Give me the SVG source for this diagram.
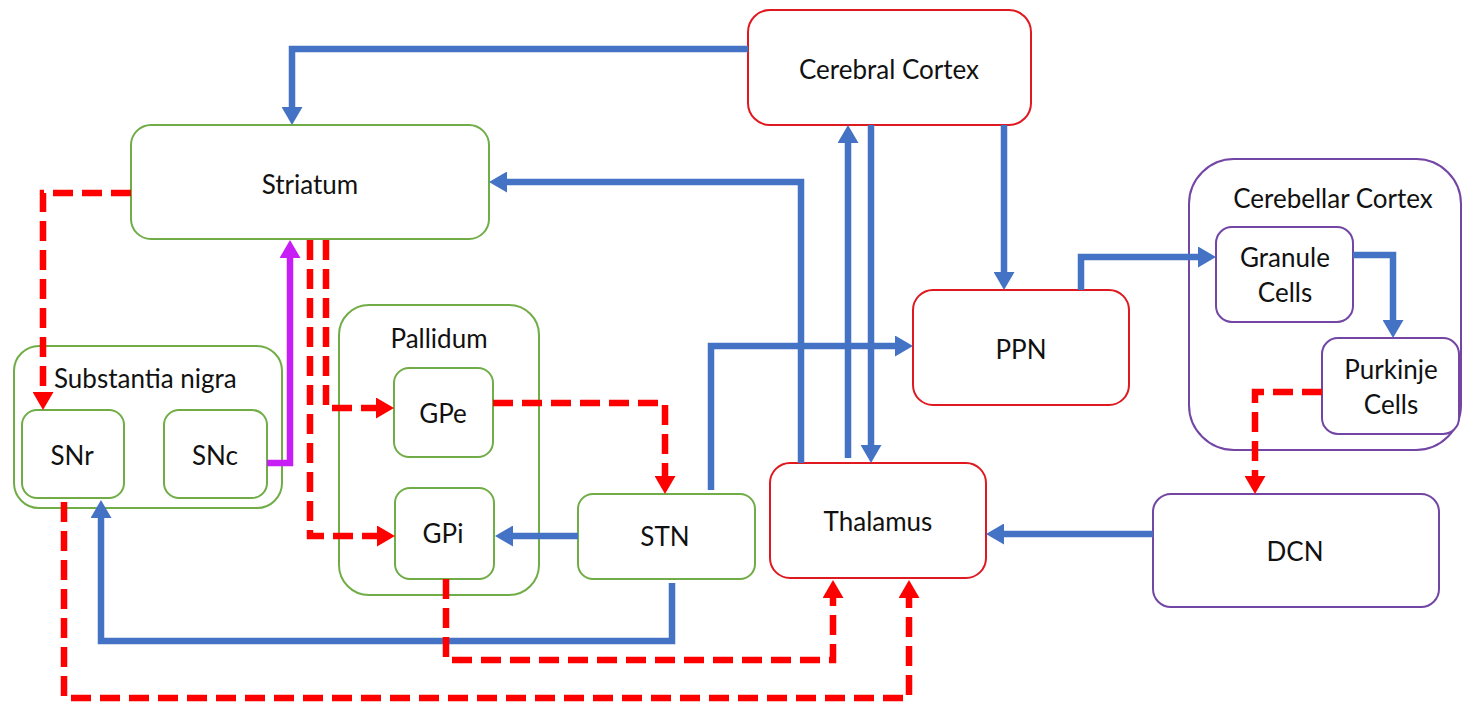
<svg xmlns="http://www.w3.org/2000/svg" width="1463" height="709" viewBox="0 0 1463 709">
  <style>
    .box { fill: #ffffff; stroke-width: 2; }
    .green { stroke: #70AD47; }
    .red { stroke: #E0181F; }
    .purple { stroke: #7345A5; }
    .lbl { font-family: Lato, "Liberation Sans", sans-serif; font-size: 26px; fill: #111111; text-anchor: middle; dominant-baseline: central; }
    .ex { fill: none; stroke: #4472C4; stroke-width: 6.5; }
    .inh { fill: none; stroke: #FF0000; stroke-width: 6.5; stroke-dasharray: 20 9; }
    .da { fill: none; stroke: #C61EF5; stroke-width: 6.5; }
  </style>
  <defs>
    <marker id="ahBlue" markerUnits="userSpaceOnUse" viewBox="0 0 18 21" refX="0" refY="10.5" markerWidth="18" markerHeight="21" orient="auto">
      <path d="M0,0 L18,10.5 L0,21 z" fill="#4472C4"/>
    </marker>
    <marker id="ahRed" markerUnits="userSpaceOnUse" viewBox="0 0 18 21" refX="0" refY="10.5" markerWidth="18" markerHeight="21" orient="auto">
      <path d="M0,0 L18,10.5 L0,21 z" fill="#FF0000"/>
    </marker>
    <marker id="ahMag" markerUnits="userSpaceOnUse" viewBox="0 0 18 21" refX="0" refY="10.5" markerWidth="18" markerHeight="21" orient="auto">
      <path d="M0,0 L18,10.5 L0,21 z" fill="#C61EF5"/>
    </marker>
  </defs>

  <!-- containers -->
  <g id="substantia-nigra">
    <rect class="box green" x="14" y="346" width="268" height="162" rx="25"/>
    <text class="lbl" x="54" y="378" style="text-anchor:start">Substantia nigra</text>
  </g>
  <g id="pallidum">
    <rect class="box green" x="339" y="305" width="200" height="290" rx="30"/>
    <text class="lbl" x="439" y="338">Pallidum</text>
  </g>
  <g id="cerebellar-cortex">
    <rect class="box purple" x="1189" y="159" width="272" height="291" rx="45"/>
    <text class="lbl" x="1333" y="198">Cerebellar Cortex</text>
  </g>

  <!-- nodes -->
  <g id="cerebral-cortex">
    <rect class="box red" x="748" y="10" width="283" height="115" rx="22"/>
    <text class="lbl" x="889" y="69">Cerebral Cortex</text>
  </g>
  <g id="striatum">
    <rect class="box green" x="131" y="125" width="358" height="114" rx="20"/>
    <text class="lbl" x="310" y="184">Striatum</text>
  </g>
  <g id="snr">
    <rect class="box green" x="22" y="410" width="102" height="88" rx="15"/>
    <text class="lbl" x="72" y="455">SNr</text>
  </g>
  <g id="snc">
    <rect class="box green" x="164" y="410" width="103" height="88" rx="15"/>
    <text class="lbl" x="215" y="455">SNc</text>
  </g>
  <g id="gpe">
    <rect class="box green" x="394" y="368" width="99" height="89" rx="15"/>
    <text class="lbl" x="443" y="413">GPe</text>
  </g>
  <g id="gpi">
    <rect class="box green" x="395" y="488" width="99" height="91" rx="15"/>
    <text class="lbl" x="443" y="533">GPi</text>
  </g>
  <g id="stn">
    <rect class="box green" x="578" y="494" width="177" height="85" rx="15"/>
    <text class="lbl" x="665" y="536">STN</text>
  </g>
  <g id="thalamus">
    <rect class="box red" x="770" y="463" width="216" height="115" rx="20"/>
    <text class="lbl" x="878" y="521">Thalamus</text>
  </g>
  <g id="ppn">
    <rect class="box red" x="913" y="290" width="216" height="115" rx="20"/>
    <text class="lbl" x="1021" y="349">PPN</text>
  </g>
  <g id="granule-cells">
    <rect class="box purple" x="1216" y="227" width="137" height="95" rx="16"/>
    <text class="lbl" x="1285" y="257">Granule</text>
    <text class="lbl" x="1285" y="292">Cells</text>
  </g>
  <g id="purkinje-cells">
    <rect class="box purple" x="1322" y="338" width="137" height="96" rx="16"/>
    <text class="lbl" x="1391" y="369">Purkinje</text>
    <text class="lbl" x="1391" y="404">Cells</text>
  </g>
  <g id="dcn">
    <rect class="box purple" x="1153" y="494" width="286" height="113" rx="18"/>
    <text class="lbl" x="1295" y="551">DCN</text>
  </g>

  <!-- connectors -->
  <g id="connectors">
    <!-- excitatory (blue) -->
    <path class="ex" d="M748,49 H292 V107" marker-end="url(#ahBlue)"/>
    <path class="ex" d="M801,463 V182 H507" marker-end="url(#ahBlue)"/>
    <path class="ex" d="M848,458 V143" marker-end="url(#ahBlue)"/>
    <path class="ex" d="M871,125 V445" marker-end="url(#ahBlue)"/>
    <path class="ex" d="M1004,125 V272" marker-end="url(#ahBlue)"/>
    <path class="ex" d="M1081,290 V257 H1198" marker-end="url(#ahBlue)"/>
    <path class="ex" d="M1353,255 H1393 V320" marker-end="url(#ahBlue)"/>
    <path class="ex" d="M1153,534 H1004" marker-end="url(#ahBlue)"/>
    <path class="ex" d="M711,490 V346 H895" marker-end="url(#ahBlue)"/>
    <path class="ex" d="M578,536 H513" marker-end="url(#ahBlue)"/>
    <path class="ex" d="M672,583 V641 H101 V518" marker-end="url(#ahBlue)"/>
    <!-- dopaminergic (magenta) -->
    <path class="da" d="M267,463 H290 V258" marker-end="url(#ahMag)"/>
    <!-- inhibitory (red dashed) -->
    <path class="inh" d="M131,193 H43 V392" marker-end="url(#ahRed)"/>
    <path class="inh" d="M326,240 V408 H376" marker-end="url(#ahRed)"/>
    <path class="inh" d="M310,240 V536 H377" marker-end="url(#ahRed)"/>
    <path class="inh" d="M493,403 H665 V476" marker-end="url(#ahRed)"/>
    <path class="inh" d="M446,579 V660 H833 V598" marker-end="url(#ahRed)"/>
    <path class="inh" d="M64,502 V698 H909 V598" marker-end="url(#ahRed)"/>
    <path class="inh" d="M1322,392 H1255 V476" marker-end="url(#ahRed)"/>
  </g>
</svg>
